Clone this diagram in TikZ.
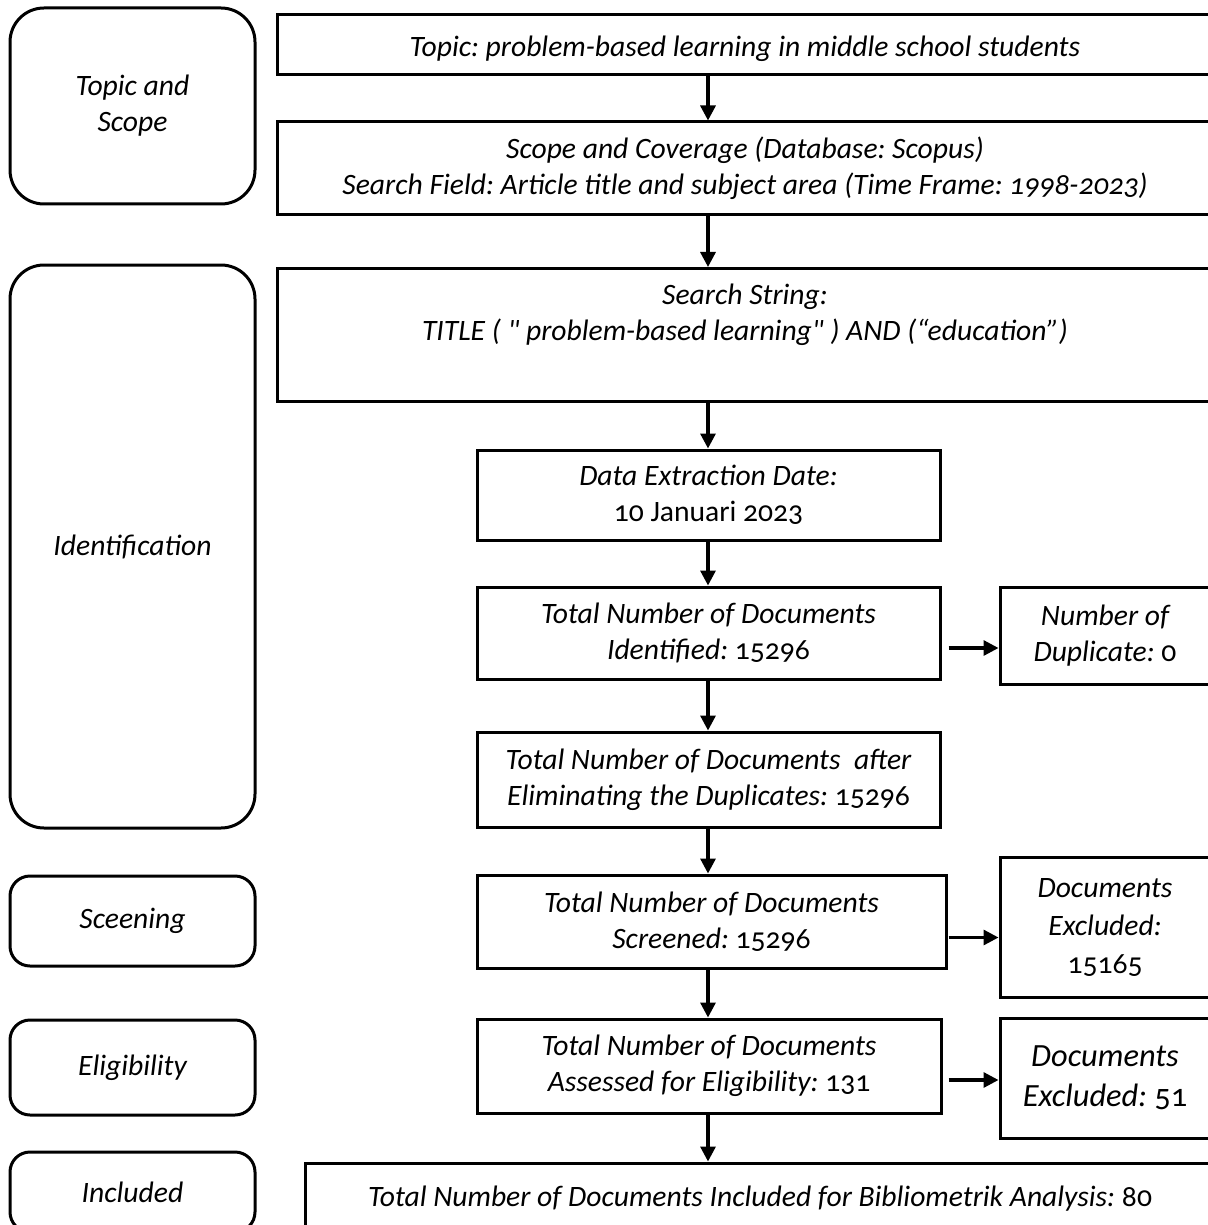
\documentclass[tikz,border=0pt]{standalone}
\usepackage{fontspec}
\setmainfont{Carlito}[Numbers=OldStyle,Ligatures=TeXOff]
\usetikzlibrary{arrows.meta}
\newcommand\uprm[1]{{\upshape #1}}
\frenchspacing
\begin{document}
\begin{tikzpicture}[x=0.5pt,y=-0.5pt,
  txt/.style={align=center, inner sep=0pt, font=\fontsize{14.8}{18}\selectfont\itshape},
  box/.style={txt, draw, line width=1.5pt},
  rbig/.style={box, rounded corners=17pt, minimum width=122.5pt},
  rsmall/.style={box, rounded corners=10pt, minimum width=122.5pt},
  arr/.style={line width=1.6pt, -{Triangle[length=7.5pt,width=7.5pt]}},
]
\useasboundingbox (0,0) rectangle (1208,1225);
\clip (0,0) rectangle (1208,1225);

% left stage boxes
\node[rbig, minimum height=98pt] (stopic) at (132.5,106) {Topic and\\Scope};
\node[rbig, minimum height=281.5pt] (sident) at (132.5,546.5) {Identification};
\node[rsmall, minimum height=45pt] (sscreen) at (132.5,921) {Sceening};
\node[rsmall, minimum height=47.5pt] (selig) at (132.5,1067.5) {Eligibility};
\node[rsmall, minimum height=40pt] (sincl) at (132.5,1192) {Included};

% wide boxes
\node[box, minimum width=468pt, minimum height=30pt] (ttop) at (745,45)
  {\raisebox{-2pt}[\height][\depth]{Topic: problem-based learning in middle school students}};
\node[box, minimum width=468pt, minimum height=46.5pt] (scope) at (745,168.5)
  {Scope and Coverage (Database: Scopus)\\Search Field: Article title and subject area (Time Frame: 1998-2023)};
\node[box, minimum width=468pt, minimum height=66.5pt] (search) at (745,335) {};
\node[txt] (searchtxt) at (745,315)
  {Search String:\\TITLE ( " problem-based learning" ) AND (“education”)};

% middle column
\node[box, minimum width=231.5pt, minimum height=45pt] (data) at (708.5,495)
  {Data Extraction Date:\\\uprm{10 Januari 2023}};
\node[box, minimum width=231.5pt, minimum height=46pt] (ident) at (708.5,633)
  {Total Number of Documents\\Identified: \uprm{15296}};
\node[box, minimum width=231.5pt, minimum height=47.5pt] (elim) at (708.5,779.5)
  {Total Number of Documents \ after\\Eliminating the Duplicates: \uprm{15296}};
\node[box, minimum width=234.5pt, minimum height=46.5pt] (screen) at (711.5,921.5)
  {Total Number of Documents\\Screened: \uprm{15296}};
\node[box, minimum width=232pt, minimum height=47pt] (elig) at (709,1066)
  {Total Number of Documents\\Assessed for Eligibility: \uprm{131}};
\node[box, minimum width=455pt, minimum height=36pt] (final) at (760,1199)
  {Total Number of Documents Included for Bibliometrik Analysis: \uprm{80}};

% right column
\node[box, minimum width=105pt, minimum height=48.5pt] (dup) at (1105,635.5)
  {Number of\\Duplicate: \uprm{0}};
\node[box, minimum width=105pt, minimum height=70pt, font=\fontsize{14.8}{19}\selectfont\itshape] (exc1) at (1105,927)
  {Documents\\Excluded:\\\uprm{15165}};
\node[box, minimum width=105pt, minimum height=60pt, font=\fontsize{16.2}{20}\selectfont\itshape] (exc2) at (1105,1078)
  {Documents\\Excluded: \uprm{51}};

% vertical arrows
\coordinate (ax) at (708,0);
\draw[arr] (ttop.south -| ax) -- (scope.north -| ax);
\draw[arr] (scope.south -| ax) -- (search.north -| ax);
\draw[arr] (search.south -| ax) -- (data.north -| ax);
\draw[arr] (data.south -| ax) -- (ident.north -| ax);
\draw[arr] (ident.south -| ax) -- (elim.north -| ax);
\draw[arr] (elim.south -| ax) -- (screen.north -| ax);
\draw[arr] (screen.south -| ax) -- (elig.north -| ax);
\draw[arr] (elig.south -| ax) -- (final.north -| ax);

% horizontal arrows
\path ([yshift=-7.5pt]ident.east) coordinate (h1);
\draw[arr] ([xshift=3.5pt]h1) -- (h1 -| dup.west);
\path ([yshift=-8pt]screen.east) coordinate (h2);
\draw[arr] ([xshift=0.5pt]h2) -- (h2 -| exc1.west);
\path ([yshift=-7pt]elig.east) coordinate (h3);
\draw[arr] ([xshift=3pt]h3) -- (h3 -| exc2.west);
\end{tikzpicture}
\end{document}
